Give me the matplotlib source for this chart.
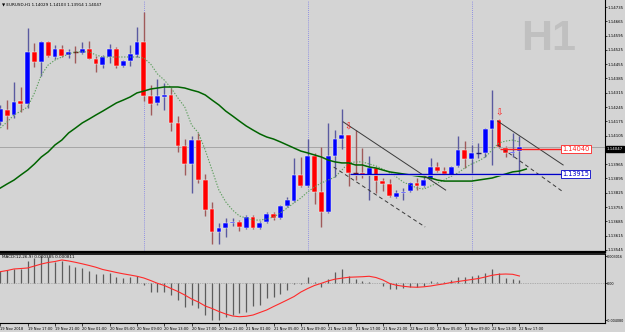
import matplotlib
matplotlib.use('Agg')
import matplotlib.pyplot as plt
import numpy as np

# ---------------- data ----------------
opens = [1.14172, 1.14230, 1.14206, 1.14274, 1.14260, 1.14515, 1.14466, 1.14564, 1.14490, 1.14529,
         1.14500, 1.14515, 1.14510, 1.14529, 1.14480, 1.14451, 1.14490, 1.14529, 1.14446, 1.14470,
         1.14500, 1.14564, 1.14299, 1.14265, 1.14294, 1.14304, 1.14167, 1.14054, 1.13966, 1.14083,
         1.13887, 1.13745, 1.13633, 1.13652, 1.13677, 1.13682, 1.13652, 1.13706, 1.13652, 1.13682,
         1.13721, 1.13701, 1.13760, 1.13784, 1.13912, 1.13858, 1.14005, 1.13829, 1.13730, 1.14005,
         1.14088, 1.14108, 1.13922, 1.13922, 1.13912, 1.13946, 1.13882, 1.13868, 1.13804, 1.13824,
         1.13833, 1.13873, 1.13858, 1.13892, 1.13951, 1.13931, 1.13912, 1.13956, 1.14034, 1.13990,
         1.14018, 1.14020, 1.14137, 1.14181, 1.14044, 1.14020, 1.14029]
highs = [1.14255, 1.14279, 1.14368, 1.14343, 1.14632, 1.14559, 1.14568, 1.14568, 1.14549, 1.14549,
         1.14529, 1.14544, 1.14564, 1.14568, 1.14495, 1.14500, 1.14554, 1.14539, 1.14473, 1.14549,
         1.14637, 1.14711, 1.14353, 1.14382, 1.14363, 1.14338, 1.14201, 1.14088, 1.14103, 1.14118,
         1.13917, 1.13780, 1.13677, 1.13701, 1.13701, 1.13691, 1.13716, 1.13716, 1.13686, 1.13730,
         1.13730, 1.13765, 1.13804, 1.13995, 1.14000, 1.14088, 1.14020, 1.14049, 1.14167, 1.14132,
         1.14235, 1.14110, 1.14132, 1.14044, 1.14005, 1.13951, 1.13897, 1.13892, 1.13838, 1.13848,
         1.13877, 1.13897, 1.13917, 1.13995, 1.13976, 1.13951, 1.13956, 1.14103, 1.14078, 1.14059,
         1.14069, 1.14142, 1.14328, 1.14186, 1.14054, 1.14118, 1.14103]
lows = [1.14157, 1.14137, 1.14191, 1.14221, 1.14240, 1.14441, 1.14397, 1.14490, 1.14480, 1.14490,
        1.14485, 1.14461, 1.14507, 1.14478, 1.14417, 1.14436, 1.14461, 1.14436, 1.14441, 1.14446,
        1.14490, 1.14274, 1.14206, 1.14255, 1.14230, 1.14127, 1.14025, 1.13912, 1.13824, 1.13873,
        1.13711, 1.13574, 1.13574, 1.13608, 1.13662, 1.13637, 1.13647, 1.13647, 1.13647, 1.13677,
        1.13691, 1.13696, 1.13755, 1.13780, 1.13853, 1.13853, 1.13770, 1.13657, 1.13726, 1.13902,
        1.14039, 1.13858, 1.13887, 1.13897, 1.13789, 1.13824, 1.13833, 1.13804, 1.13799, 1.13789,
        1.13829, 1.13838, 1.13853, 1.13887, 1.13927, 1.13912, 1.13907, 1.13951, 1.13946, 1.13922,
        1.13995, 1.14000, 1.13961, 1.14044, 1.14000, 1.14000, 1.13914]
closes = [1.14235, 1.14201, 1.14270, 1.14260, 1.14515, 1.14466, 1.14564, 1.14495, 1.14529, 1.14495,
          1.14515, 1.14512, 1.14529, 1.14480, 1.14456, 1.14490, 1.14529, 1.14446, 1.14470, 1.14505,
          1.14564, 1.14299, 1.14260, 1.14299, 1.14304, 1.14167, 1.14054, 1.13966, 1.14083, 1.13887,
          1.13740, 1.13633, 1.13652, 1.13677, 1.13682, 1.13657, 1.13706, 1.13652, 1.13677, 1.13721,
          1.13701, 1.13760, 1.13789, 1.13912, 1.13858, 1.14005, 1.13829, 1.13730, 1.14005, 1.14088,
          1.14108, 1.13922, 1.13920, 1.13912, 1.13946, 1.13882, 1.13868, 1.13809, 1.13824, 1.13829,
          1.13873, 1.13858, 1.13887, 1.13951, 1.13931, 1.13917, 1.13951, 1.14034, 1.13990, 1.14020,
          1.14020, 1.14137, 1.14181, 1.14049, 1.14020, 1.14025, 1.14047]

ma_fast = [1.14142, 1.14172, 1.14206, 1.14225, 1.14245, 1.14314, 1.14402, 1.14451, 1.14475, 1.14490,
           1.14505, 1.14515, 1.14515, 1.14515, 1.14500, 1.14490, 1.14490, 1.14490, 1.14490, 1.14490,
           1.14490, 1.14485, 1.14456, 1.14407, 1.14377, 1.14338, 1.14289, 1.14245, 1.14157, 1.14118,
           1.14034, 1.13936, 1.13838, 1.13780, 1.13740, 1.13711, 1.13701, 1.13691, 1.13691, 1.13696,
           1.13706, 1.13726, 1.13750, 1.13775, 1.13799, 1.13829, 1.13853, 1.13873, 1.13887, 1.13902,
           1.13936, 1.13971, 1.13976, 1.13976, 1.13966, 1.13956, 1.13941, 1.13922, 1.13902, 1.13877,
           1.13863, 1.13848, 1.13843, 1.13858, 1.13873, 1.13887, 1.13907, 1.13922, 1.13946, 1.13966,
           1.13980, 1.14000, 1.14034, 1.14069, 1.14078, 1.14083, 1.14074]
ma_slow = [1.13848, 1.13868, 1.13887, 1.13912, 1.13936, 1.13966, 1.14000, 1.14025, 1.14059, 1.14083,
           1.14118, 1.14142, 1.14167, 1.14186, 1.14206, 1.14225, 1.14245, 1.14265, 1.14279, 1.14294,
           1.14314, 1.14323, 1.14333, 1.14338, 1.14343, 1.14343, 1.14343, 1.14338, 1.14328, 1.14319,
           1.14304, 1.14279, 1.14255, 1.14225, 1.14201, 1.14176, 1.14152, 1.14132, 1.14113, 1.14098,
           1.14088, 1.14074, 1.14059, 1.14044, 1.14029, 1.14020, 1.14010, 1.14000, 1.13985, 1.13976,
           1.13971, 1.13971, 1.13961, 1.13961, 1.13951, 1.13946, 1.13936, 1.13927, 1.13922, 1.13917,
           1.13912, 1.13907, 1.13902, 1.13897, 1.13887, 1.13882, 1.13882, 1.13882, 1.13882, 1.13882,
           1.13887, 1.13892, 1.13897, 1.13907, 1.13917, 1.13927, 1.13931, 1.13941]

macd_main = [0.00137, 0.00148, 0.00155, 0.00159, 0.00251, 0.00278, 0.00302, 0.00289, 0.00240, 0.00251,
             0.00203, 0.00178, 0.00173, 0.00137, 0.00100, 0.00100, 0.00111, 0.00067, 0.00062, 0.00067,
             0.00081, -0.00019, -0.00093, -0.00093, -0.00093, -0.00130, -0.00185, -0.00260, -0.00241, -0.00278,
             -0.00352, -0.00408, -0.00405, -0.00377, -0.00352, -0.00326, -0.00315, -0.00252, -0.00241, -0.00167,
             -0.00149, -0.00119, -0.00074, -0.00011, -0.00003, 0.00073, 0.00018, -0.00044, 0.00044, 0.00122,
             0.00159, 0.00081, 0.00044, 0.00026, 0.00018, 0.00003, -0.00030, -0.00063, -0.00063, -0.00056,
             -0.00044, -0.00038, -0.00027, 0.00026, 0.00018, 0.00011, 0.00037, 0.00073, 0.00073, 0.00081,
             0.00092, 0.00118, 0.00155, 0.00111, 0.00062, 0.00044, 0.000385]
macd_signal = [0.00129, 0.00142, 0.00159, 0.00164, 0.00170, 0.00192, 0.00214, 0.00231, 0.00242, 0.00259,
               0.00248, 0.00233, 0.00216, 0.00198, 0.00178, 0.00153, 0.00137, 0.00120, 0.00105, 0.00092,
               0.00078, 0.00059, 0.00031, 0.00000, -0.00024, -0.00058, -0.00091, -0.00130, -0.00174, -0.00208,
               -0.00252, -0.00280, -0.00313, -0.00341, -0.00363, -0.00371, -0.00366, -0.00352, -0.00324, -0.00296,
               -0.00258, -0.00222, -0.00185, -0.00147, -0.00097, -0.00058, -0.00024, 0.00000, 0.00026, 0.00046,
               0.00057, 0.00067, 0.00070, 0.00073, 0.00078, 0.00064, 0.00037, -0.00002, -0.00022, -0.00033,
               -0.00041, -0.00044, -0.00039, -0.00030, -0.00017, -0.00006, 0.00009, 0.00020, 0.00031, 0.00042,
               0.00053, 0.00070, 0.00089, 0.00100, 0.00103, 0.00100, 0.000811]

time_tick_idx = [0, 4, 8, 12, 16, 20, 24, 28, 32, 36, 40, 44, 48, 52, 56, 60, 64, 68, 72, 76]
time_labels = ['19 Nov 2018', '19 Nov 17:00', '19 Nov 21:00', '20 Nov 01:00', '20 Nov 05:00',
               '20 Nov 09:00', '20 Nov 13:00', '20 Nov 17:00', '20 Nov 21:00', '21 Nov 01:00',
               '21 Nov 05:00', '21 Nov 09:00', '21 Nov 13:00', '21 Nov 17:00', '21 Nov 21:00',
               '22 Nov 01:00', '22 Nov 05:00', '22 Nov 09:00', '22 Nov 13:00', '22 Nov 17:00']
price_ticks = [1.14735, 1.14665, 1.14595, 1.14525, 1.14455, 1.14385, 1.14315, 1.14245, 1.14175,
               1.14105, 1.13965, 1.13895, 1.13825, 1.13755, 1.13685, 1.13615, 1.13545]
macd_ticks = [0.003016, 0.0, -0.00408]
macd_tick_labels = ['0.003016', '0.00', '-0.004080']
day_separators = [21, 45, 69]
bid_price = 1.14047

# chart objects (time index, price anchors)
trend_solid = [((50.2, 1.14172), (65.2, 1.13838)), ((72.8, 1.14176), (82.4, 1.13961))]
trend_dashed = [((48.8, 1.13951), (62.2, 1.13657)), ((72.8, 1.14059), (82.4, 1.13829))]
hline_red = (73.2, 82.2, 1.14040)
hline_blue = (51.2, 82.2, 1.13915)
arrow_marks = [(51, 1.14147), (73, 1.14216)]

# ---------------- layout ----------------
BG = '#d4d4d4'
W, H = 625, 332
fig = plt.figure(figsize=(W / 100, H / 100), dpi=100, facecolor=BG)
def fx(p): return p / W
def fy(p): return 1 - p / H

ax = fig.add_axes([0, fy(252), fx(605), fy(0) - fy(252)], facecolor=BG)
axm = fig.add_axes([0, fy(323), fx(605), fy(254) - fy(323)], facecolor=BG)

n = len(opens)
x = np.arange(n)
XL = (-0.05, 88.53)

# ---------------- main panel ----------------
ax.axhline(bid_price, color='#a6a6a6', lw=0.7, zorder=1)
for d in day_separators:
    ax.axvline(d, color='#7a7ae8', lw=0.6, ls=(0, (1, 1.5)), zorder=1)

ax.text(fx(521), fy(39), 'H1', transform=fig.transFigure, fontsize=31, fontweight='bold',
        family='Liberation Sans', color='#c0c0c0', ha='left', va='center', zorder=0.5)

for i in range(n):
    o, h, l, c = opens[i], highs[i], lows[i], closes[i]
    up = c >= o
    body = '#0000ff' if up else '#ff0000'
    wick = '#5a5aa0' if up else '#a05a5a'
    ax.vlines(i, l, h, color=wick, lw=1.0, zorder=3)
    if abs(c - o) < 0.00004:
        dark = '#202070' if up else '#701818'
        ax.hlines(o, i - 0.36, i + 0.36, color=dark, lw=1.0, zorder=4)
    else:
        ax.bar(i, c - o, bottom=o, width=0.70, color=body, edgecolor='#f4f4f4',
               linewidth=0.35, zorder=4)

ax.plot(x, ma_fast, color='#5e9e5e', lw=0.8, ls=(0, (1.2, 1.4)), zorder=5)
ax.plot(np.arange(len(ma_slow)), ma_slow, color='#006400', lw=1.1, zorder=5)

for (a, b) in trend_solid:
    ax.plot([a[0], b[0]], [a[1], b[1]], color='#3a3a3a', lw=0.7, zorder=6)
for (a, b) in trend_dashed:
    ax.plot([a[0], b[0]], [a[1], b[1]], color='#3a3a3a', lw=0.7, ls=(0, (4, 3)), zorder=6)

ax.hlines(hline_blue[2] - 0.00005, hline_blue[0], hline_blue[1], color='#f2f2e2', lw=0.6, zorder=6)
ax.hlines(hline_blue[2], hline_blue[0], hline_blue[1], color='#0000c8', lw=1.0, zorder=6)
ax.hlines(hline_red[2], hline_red[0], hline_red[1], color='#ff2020', lw=1.0, zorder=6)
ax.text(hline_red[1] + 0.1, hline_red[2], '%.5f' % hline_red[2], color='#ff2020', fontsize=4.8,
        ha='left', va='center', zorder=8,
        bbox=dict(boxstyle='square,pad=0.15', facecolor='white', edgecolor='#ff2020', lw=0.6))
ax.text(hline_blue[1] + 0.1, hline_blue[2], '%.5f' % hline_blue[2], color='#0000c8', fontsize=4.8,
        ha='left', va='center', zorder=8,
        bbox=dict(boxstyle='square,pad=0.15', facecolor='white', edgecolor='#0000c8', lw=0.6))

for (xi, pr) in arrow_marks:
    ax.text(xi, pr, '\u21e9', color='#ff1010', fontsize=6.5, ha='center', va='center',
            family='DejaVu Sans', zorder=8)

ax.set_xlim(*XL)
ax.set_ylim(1.135345, 1.147693)
ax.set_xticks([])
ax.yaxis.tick_right()
ax.set_yticks(price_ticks)
ax.set_yticklabels(['%.5f' % p for p in price_ticks])
ax.tick_params(axis='y', labelsize=2.8, length=1.5, width=0.5, pad=0.6, colors='black')
for s in ['left', 'top']:
    ax.spines[s].set_visible(False)
ax.spines['right'].set_linewidth(0.8)
ax.spines['bottom'].set_linewidth(1.6)

fig.text(fx(2), fy(4), '\u25bc EURUSD,H1 1.14029 1.14103 1.13914 1.14047', fontsize=3.0,
         ha='left', va='center', color='black')
fig.text(fx(606.5), fy(149), '%.5f' % bid_price, fontsize=2.8, color='white', ha='left', va='center',
         bbox=dict(boxstyle='square,pad=0.2', facecolor='black', edgecolor='black'))

# ---------------- MACD panel ----------------
axm.axhline(0, color='#888888', lw=0.5, ls=(0, (1, 1.5)), zorder=1)
axm.vlines(x, 0, macd_main, color='#5c5c5c', lw=0.9, zorder=3)
axm.plot(x, macd_signal, color='#ff2a2a', lw=0.8, zorder=4)
axm.set_xlim(*XL)
axm.set_ylim(-0.004407, 0.003252)
axm.yaxis.tick_right()
axm.set_yticks(macd_ticks)
axm.set_yticklabels(macd_tick_labels)
axm.tick_params(axis='y', labelsize=2.4, length=1.2, width=0.5, pad=0.4)
axm.set_xticks(time_tick_idx)
axm.set_xticklabels(time_labels, ha='left')
axm.tick_params(axis='x', labelsize=2.6, length=2, width=0.5, pad=1.2)
for s in ['left']:
    axm.spines[s].set_visible(False)
axm.spines['top'].set_linewidth(1.2)
axm.spines['right'].set_linewidth(0.8)
axm.spines['bottom'].set_linewidth(0.8)

fig.text(fx(2), fy(257), 'MACD(12,26,9) 0.000385 0.000811', fontsize=3.0, ha='left', va='center')

fig.savefig('out.png', dpi=100, facecolor=BG)
